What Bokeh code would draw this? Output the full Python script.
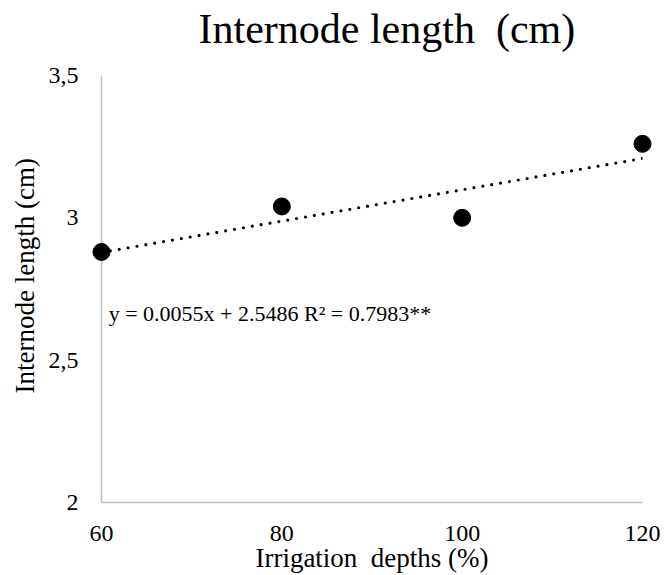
from bokeh.plotting import figure
from bokeh.models import Range1d, FixedTicker, CustomJSTickFormatter, Label, LinearAxis, Title, ColumnDataSource
from bokeh.embed import file_html
from bokeh.resources import INLINE

# Data
irrigation = [60, 80, 100, 120]
internode = [2.88, 3.04, 3.00, 3.26]
slope = 0.0055
intercept = 2.5486
r2_text = "y = 0.0055x + 2.5486 R² = 0.7983**"
title_text = "Internode length\u00a0 (cm)"
x_title = "Irrigation\u00a0 depths (%)"
y_title = "Internode length (cm)"
x_ticks = [60, 80, 100, 120]
y_ticks = [2, 2.5, 3, 3.5]

FONT = "Liberation Serif"

p = figure(width=664, height=575, output_backend="svg", toolbar_location=None,
           x_range=Range1d(60, 120), y_range=Range1d(2, 3.5),
           min_border_left=101, min_border_right=22, min_border_top=75, min_border_bottom=73)
p.title_location = None
p.outline_line_color = None
p.background_fill_color = "white"
p.border_fill_color = "white"
p.xgrid.visible = False
p.ygrid.visible = False

for ax in (p.xaxis[0], p.yaxis[0]):
    ax.axis_line_color = "#bfbfbf"
    ax.axis_line_width = 1.5
    ax.major_tick_line_color = None
    ax.minor_tick_line_color = None
    ax.major_label_text_font = FONT
    ax.major_label_text_font_size = "24px"
    ax.major_label_text_color = "black"
    ax.axis_label_text_font = FONT
    ax.axis_label_text_font_size = "27px"
    ax.axis_label_text_font_style = "normal"
    ax.axis_label_text_color = "black"

p.xaxis.ticker = FixedTicker(ticks=x_ticks)
p.yaxis.ticker = FixedTicker(ticks=y_ticks)
p.yaxis.formatter = CustomJSTickFormatter(code="return tick.toString().replace('.', ',');")
p.xaxis.axis_label = x_title
p.xaxis.major_label_standoff = 17
p.xaxis.axis_label_standoff = -1
p.yaxis.major_label_standoff = 17

# blank spacer between the plot area and the title (nearest the plot area)
spacer = LinearAxis(ticker=FixedTicker(ticks=[]), axis_line_color=None,
                    major_tick_line_color=None, minor_tick_line_color=None,
                    major_tick_out=0, major_tick_in=0, major_label_standoff=0,
                    axis_label="\u00a0", axis_label_text_font=FONT,
                    axis_label_text_font_size="19px", axis_label_standoff=0)
p.add_layout(spacer, "above")

# Chart title (outer)
p.add_layout(Title(text=title_text, align="left", offset=97, standoff=0,
                   text_font=FONT, text_font_size="42px", text_font_style="normal",
                   text_color="black"), "above")

# Y axis title
p.add_layout(Title(text=y_title, align="left", offset=109, standoff=12,
                   text_font=FONT, text_font_size="27px", text_font_style="normal",
                   text_color="black"), "left")

trend_x = [irrigation[0], irrigation[-1]]
trend_y = [slope * v + intercept for v in trend_x]
p.line(trend_x, trend_y, line_color="black", line_width=3.2, line_dash="0 9", line_cap="round")

src = ColumnDataSource(dict(x=irrigation, y=internode))
r = p.scatter("x", "y", source=src, size=17, fill_color="black", line_color="black")
r.level = "overlay"

p.add_layout(Label(x=60.8, y=2.664, text=r2_text, text_font=FONT, text_font_size="22px",
                   text_color="black", text_baseline="alphabetic", text_align="left"))

open("out.html", "w").write(file_html(p, INLINE))
